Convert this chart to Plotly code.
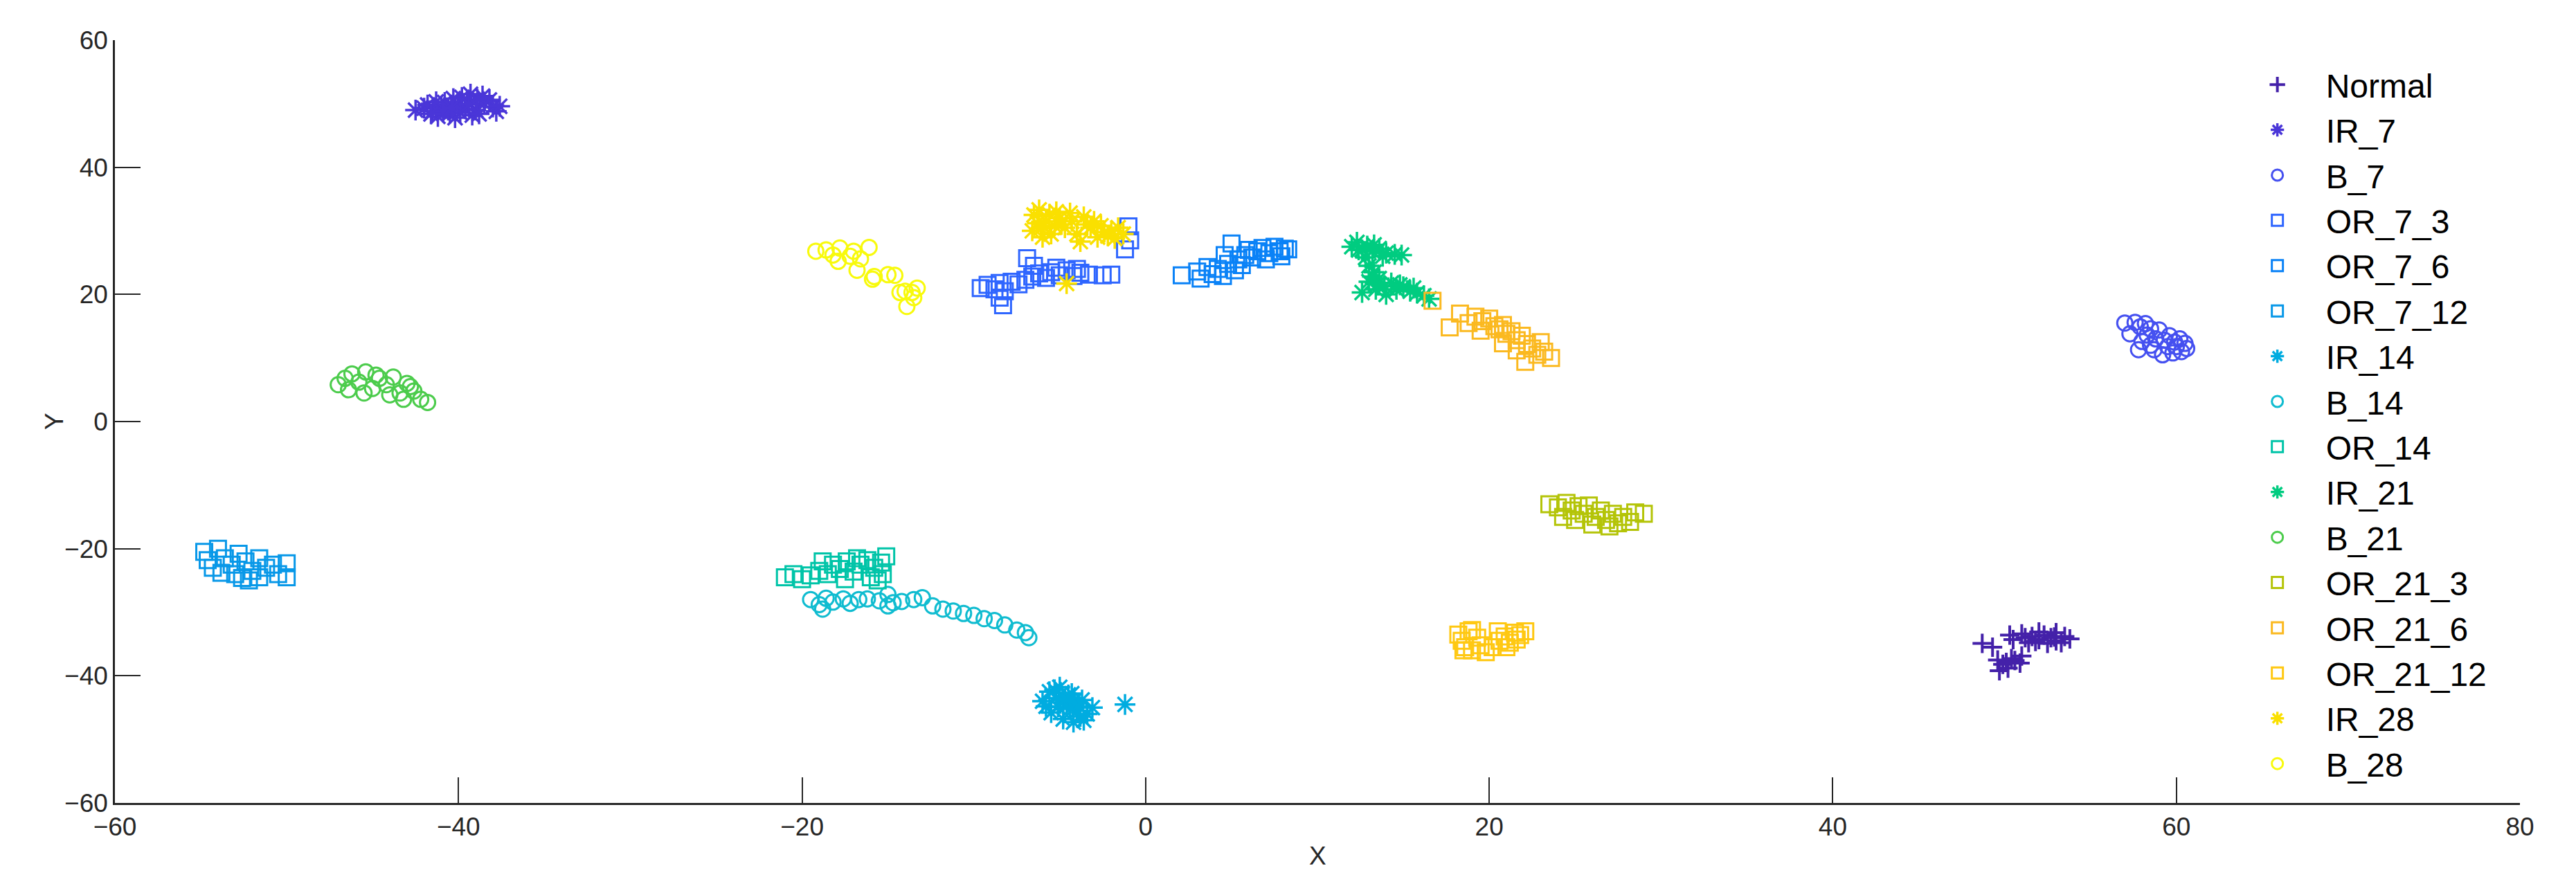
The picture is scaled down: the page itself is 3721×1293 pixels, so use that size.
import plotly.graph_objects as go

# class labels, in legend order
labels = ["Normal", "IR_7", "B_7", "OR_7_3", "OR_7_6", "OR_7_12", "IR_14", "B_14",
          "OR_14", "IR_21", "B_21", "OR_21_3", "OR_21_6", "OR_21_12", "IR_28", "B_28"]

# 2-D embedding coordinates
normal_x = [48.7, 49.3, 50.3, 50.5, 51.2, 51.6, 52.0, 52.3, 52.7, 53.0, 53.5, 53.8, 51.4, 52.5,
            49.6, 49.9, 50.2, 49.7, 50.6, 51.0, 50.1, 53.0, 52.0, 51.8, 52.9, 51.0, 53.3, 50.9, 50.4]
normal_y = [-34.9, -35.5, -33.6, -34.3, -34.0, -33.8, -34.3, -33.6, -34.0, -34.5, -33.8, -34.2, -34.8, -34.9,
            -37.5, -38.2, -38.8, -39.2, -37.6, -36.9, -37.9, -33.2, -33.1, -34.6, -33.9, -33.4, -34.8,
            -38.0, -37.3]

ir7_x = [-42.5, -42.0, -41.5, -41.0, -40.5, -40.0, -39.5, -39.0, -38.5, -38.0, -37.8, -39.8, -40.8,
         -39.2, -40.2, -38.6, -41.2, -39.6, -40.6, -38.2, -41.8, -41.3, -40.3, -39.3, -38.8, -39.9,
         -40.9, -37.6, -38.9, -40.4, -39.4, -41.6]
ir7_y = [49.0, 49.3, 48.8, 49.5, 48.5, 49.8, 50.5, 49.0, 50.0, 49.5, 48.8, 51.0, 50.2,
         48.2, 47.8, 51.2, 48.0, 49.2, 49.0, 50.6, 49.8, 50.3, 50.8, 51.5, 48.4, 48.6,
         48.7, 49.6, 50.7, 49.4, 49.9, 48.4]

b7_x = [57.0, 57.3, 57.6, 57.9, 58.2, 58.5, 58.0, 58.5, 58.8, 59.0, 59.3, 59.6, 59.9, 60.2, 60.5,
        60.3, 59.8, 59.2, 58.7, 59.5, 60.0, 58.3, 57.8, 60.6]
b7_y = [15.5, 13.8, 15.6, 14.9, 15.4, 14.6, 12.6, 12.0, 13.0, 14.4, 12.8, 13.5, 12.5, 13.0, 12.3,
        11.0, 10.8, 10.5, 11.3, 11.8, 11.8, 13.6, 11.3, 11.5]

or7_3_x = [-9.6, -9.2, -8.8, -8.5, -8.2, -8.5, -8.3, -7.8, -7.4, -7.0, -6.6, -6.2, -5.8, -5.5, -5.0,
           -4.6, -4.2, -3.8, -3.3, -2.5, -2.0, -6.9, -6.5, -1.0, -0.9, -1.2, -4.0, -5.2]
or7_3_y = [21.0, 21.5, 20.8, 21.8, 20.5, 19.5, 18.3, 22.0, 21.6, 22.3, 22.8, 23.3, 22.6, 23.5, 23.0,
           23.8, 22.9, 23.4, 23.1, 23.0, 23.1, 25.7, 24.5, 30.7, 28.5, 27.1, 24.0, 24.2]

or7_6_x = [2.1, 3.0, 3.2, 3.6, 3.9, 4.2, 4.5, 4.8, 5.2, 5.4, 5.6, 5.8, 6.2, 6.5, 6.8, 7.2, 7.5, 7.8,
           8.1, 7.0, 6.0, 4.6, 5.0, 7.9, 8.3]
or7_6_y = [23.0, 23.6, 22.5, 24.3, 23.2, 24.0, 22.9, 24.8, 23.8, 25.5, 24.6, 26.2, 25.8, 26.8, 27.3,
           26.5, 27.5, 26.8, 27.2, 25.5, 27.0, 26.2, 28.0, 26.0, 27.1]

or7_12_x = [-54.8, -54.6, -54.3, -54.0, -53.6, -53.2, -52.8, -52.4, -52.0, -51.6, -51.2, -51.6, -52.2,
            -53.0, -50.8, -50.5, -50.0, -50.0, -53.8, -52.6]
or7_12_y = [-20.5, -21.8, -23.0, -20.0, -21.5, -22.5, -20.8, -22.0, -23.5, -21.5, -23.0, -24.5, -25.0,
            -24.0, -22.5, -24.0, -22.3, -24.5, -23.8, -24.6]

ir14_x = [-6.0, -5.6, -5.2, -5.0, -4.6, -4.3, -4.0, -3.7, -3.4, -3.1, -5.5, -4.8, -4.2, -3.6, -5.8, -4.5,
          -1.2, -4.8, -4.2, -3.9, -5.1, -4.4, -4.7, -3.8, -5.3]
ir14_y = [-44.0, -42.5, -43.5, -41.8, -44.5, -42.8, -45.5, -43.8, -46.0, -45.0, -45.8, -46.8, -47.3, -47.0,
          -44.8, -43.0, -44.5, -44.2, -44.0, -44.8, -44.9, -45.2, -43.6, -46.4, -42.2]

b14_x = [-19.5, -19.0, -18.6, -18.2, -17.6, -17.2, -16.7, -16.2, -15.5, -15.0, -14.7, -14.2, -13.5, -13.0,
         -12.4, -11.8, -11.2, -10.6, -10.0, -9.4, -8.8, -8.2, -7.5, -7.0, -6.8, -18.8, -15.0]
b14_y = [-28.0, -28.8, -27.8, -28.4, -27.9, -28.6, -28.0, -27.9, -28.2, -27.2, -28.5, -28.3, -28.0, -27.7,
         -29.0, -29.5, -29.8, -30.2, -30.5, -31.0, -31.3, -32.0, -32.8, -33.2, -34.0, -29.5, -29.0]

or14_x = [-21.0, -20.5, -20.0, -19.5, -19.0, -18.5, -18.2, -17.8, -17.4, -17.0, -16.6, -16.2, -15.8,
          -15.4, -15.1, -15.3, -16.0, -17.5, -18.8, -16.8, -15.6]
or14_y = [-24.5, -24.0, -24.8, -24.2, -23.5, -24.0, -22.5, -23.2, -22.0, -23.6, -22.5, -21.8, -23.0,
          -22.2, -21.2, -24.0, -24.5, -24.8, -22.0, -21.5, -25.0]

ir21_x = [12.0, 12.3, 12.6, 12.9, 13.2, 13.6, 14.0, 14.5, 14.9, 12.8, 13.0, 13.3, 13.0, 13.6, 13.9,
          13.4, 14.3, 14.6, 15.0, 15.4, 15.8, 16.2, 16.5, 12.6, 14.0, 12.4, 13.3, 13.8, 13.5, 14.8,
          13.2, 15.6]
ir21_y = [27.5, 28.2, 27.0, 27.6, 26.8, 27.2, 26.5, 26.3, 26.2, 25.8, 24.5, 23.5, 22.0, 22.5, 21.3,
          20.8, 21.8, 20.8, 21.2, 20.5, 20.2, 19.8, 19.3, 20.3, 20.0, 27.0, 27.8, 26.0, 21.6, 21.5,
          22.8, 21.0]

b21_x = [-47.0, -46.6, -46.2, -45.8, -45.4, -45.0, -44.6, -44.2, -43.8, -43.4, -43.0, -42.6, -42.2,
         -41.8, -44.0, -45.5, -46.4, -43.2, -44.8, -42.8]
b21_y = [5.8, 6.8, 7.5, 6.2, 7.8, 5.2, 6.8, 5.8, 7.0, 4.5, 6.0, 4.8, 3.5, 3.0, 4.2, 4.5, 5.0, 3.5, 7.3, 5.5]

or21_3_x = [23.5, 24.0, 24.5, 24.8, 25.2, 25.5, 25.8, 26.2, 26.5, 26.8, 27.2, 27.5, 27.8, 28.2, 28.5,
            29.0, 26.0, 27.0, 24.3, 25.0]
or21_3_y = [-13.0, -13.5, -12.8, -14.0, -13.3, -14.5, -13.2, -15.0, -14.0, -15.5, -14.5, -16.0, -15.0,
            -15.8, -14.3, -14.5, -16.2, -16.5, -15.0, -15.5]

or21_6_x = [16.7, 18.3, 18.8, 19.2, 19.6, 20.0, 20.3, 20.6, 21.0, 20.8, 21.3, 21.6, 21.9, 22.2, 22.5,
            22.8, 23.2, 22.1, 21.6, 23.0, 17.7, 19.5, 20.8, 23.6]
or21_6_y = [19.0, 17.0, 15.5, 16.5, 15.8, 16.2, 15.0, 14.5, 13.8, 15.2, 14.2, 12.8, 13.5, 12.2, 11.5,
            10.5, 11.0, 9.4, 11.2, 12.5, 14.8, 14.3, 12.3, 10.0]

or21_12_x = [18.2, 18.4, 18.6, 18.8, 19.0, 19.3, 19.5, 19.8, 20.2, 20.6, 20.9, 21.2, 21.5, 21.8, 22.1,
             21.0, 20.5, 19.0, 18.5, 21.6]
or21_12_y = [-33.5, -34.5, -35.5, -33.0, -36.0, -34.0, -35.2, -36.3, -35.5, -34.5, -33.8, -34.8, -33.2,
             -33.6, -33.0, -35.5, -33.0, -32.8, -36.0, -34.3]

ir28_x = [-6.5, -6.2, -5.8, -6.6, -5.5, -5.0, -4.7, -4.3, -4.0, -3.6, -3.2, -2.8, -2.4, -2.0, -1.6,
          -1.3, -1.8, -3.0, -5.3, -6.0, -4.6, -5.2, -3.8, -6.3, -5.6, -4.9, -4.4, -3.4, -2.6, -2.2, -6.1]
ir28_y = [32.5, 33.3, 31.5, 30.0, 29.5, 32.0, 30.5, 31.5, 29.5, 32.2, 30.5, 29.0, 29.8, 30.0, 30.5,
          29.5, 28.8, 31.5, 30.8, 29.0, 21.7, 33.0, 28.3, 31.2, 32.6, 31.0, 32.8, 31.0, 30.8, 29.2, 30.4]

b28_x = [-19.2, -18.6, -18.2, -17.8, -17.2, -17.0, -16.6, -16.1, -16.8, -17.9, -15.9, -15.0, -14.6,
         -14.3, -14.0, -13.6, -13.5, -13.9, -13.3, -15.8]
b28_y = [26.8, 27.0, 26.2, 27.3, 26.0, 26.8, 25.6, 27.4, 23.8, 25.2, 22.4, 23.1, 23.0, 20.3, 20.5,
         20.3, 19.5, 18.1, 21.0, 22.8]

xs = [normal_x, ir7_x, b7_x, or7_3_x, or7_6_x, or7_12_x, ir14_x, b14_x,
      or14_x, ir21_x, b21_x, or21_3_x, or21_6_x, or21_12_x, ir28_x, b28_x]
ys = [normal_y, ir7_y, b7_y, or7_3_y, or7_6_y, or7_12_y, ir14_y, b14_y,
      or14_y, ir21_y, b21_y, or21_3_y, or21_6_y, or21_12_y, ir28_y, b28_y]

# parula-like colours
colors = ["#4421A9", "#4A36D8", "#4550F0", "#2F66FF", "#0A82F7", "#0898E8", "#00ACE0", "#10BCD0",
          "#00C4A8", "#00CC80", "#4CCC4C", "#B4C408", "#FBB920", "#FFC812", "#FAE000", "#F8FA0C"]

# marker symbol, size, stroke width per fault type
symbol_for = {"Normal": ("cross-thin-open", 20, 4), "IR": ("asterisk-open", 25, 3.5),
              "B": ("circle-open", 22, 3), "OR": ("square-open", 23, 3)}

fig = go.Figure()
for name, x, y, c in zip(labels, xs, ys, colors):
    sym, size, lw = symbol_for[name.split("_")[0]]
    fig.add_trace(go.Scatter(
        x=x, y=y, mode="markers", name=name,
        marker=dict(symbol=sym, size=size, color=c,
                    line=dict(color=c, width=lw)),
    ))

axis_font = dict(family="Liberation Sans, Arial, sans-serif", size=37, color="#262626")
common = dict(showgrid=False, zeroline=False, showline=True, linecolor="#262626", linewidth=2.5,
              ticks="inside", ticklen=37, tickwidth=2, tickcolor="#262626",
              tickfont=axis_font, mirror=False)

fig.update_xaxes(range=[-60, 80], dtick=20, **common)
fig.update_yaxes(range=[-60, 60], dtick=20, **common)

# axis titles placed like the MATLAB labels
fig.add_annotation(text="X", xref="paper", yref="paper", x=0.5, y=0, yshift=-76,
                   showarrow=False, font=axis_font, yanchor="middle")
fig.add_annotation(text="Y", xref="paper", yref="paper", x=0, y=0.5, xshift=-88,
                   showarrow=False, font=axis_font, textangle=-90, xanchor="center")

fig.update_layout(
    width=3721, height=1293,
    margin=dict(l=166, r=81, t=58, b=133),
    plot_bgcolor="white", paper_bgcolor="white",
    font=dict(family="Liberation Sans, Arial, sans-serif", color="black"),
    legend=dict(x=0.879, y=0.976, xanchor="left", yanchor="top",
                font=dict(size=48, color="black"), bgcolor="rgba(0,0,0,0)",
                itemwidth=130, tracegroupgap=0),
)

fig.write_html("out.html", config={"displayModeBar": False},
               post_script="document.body.style.margin='0';document.body.style.overflow='hidden';")
